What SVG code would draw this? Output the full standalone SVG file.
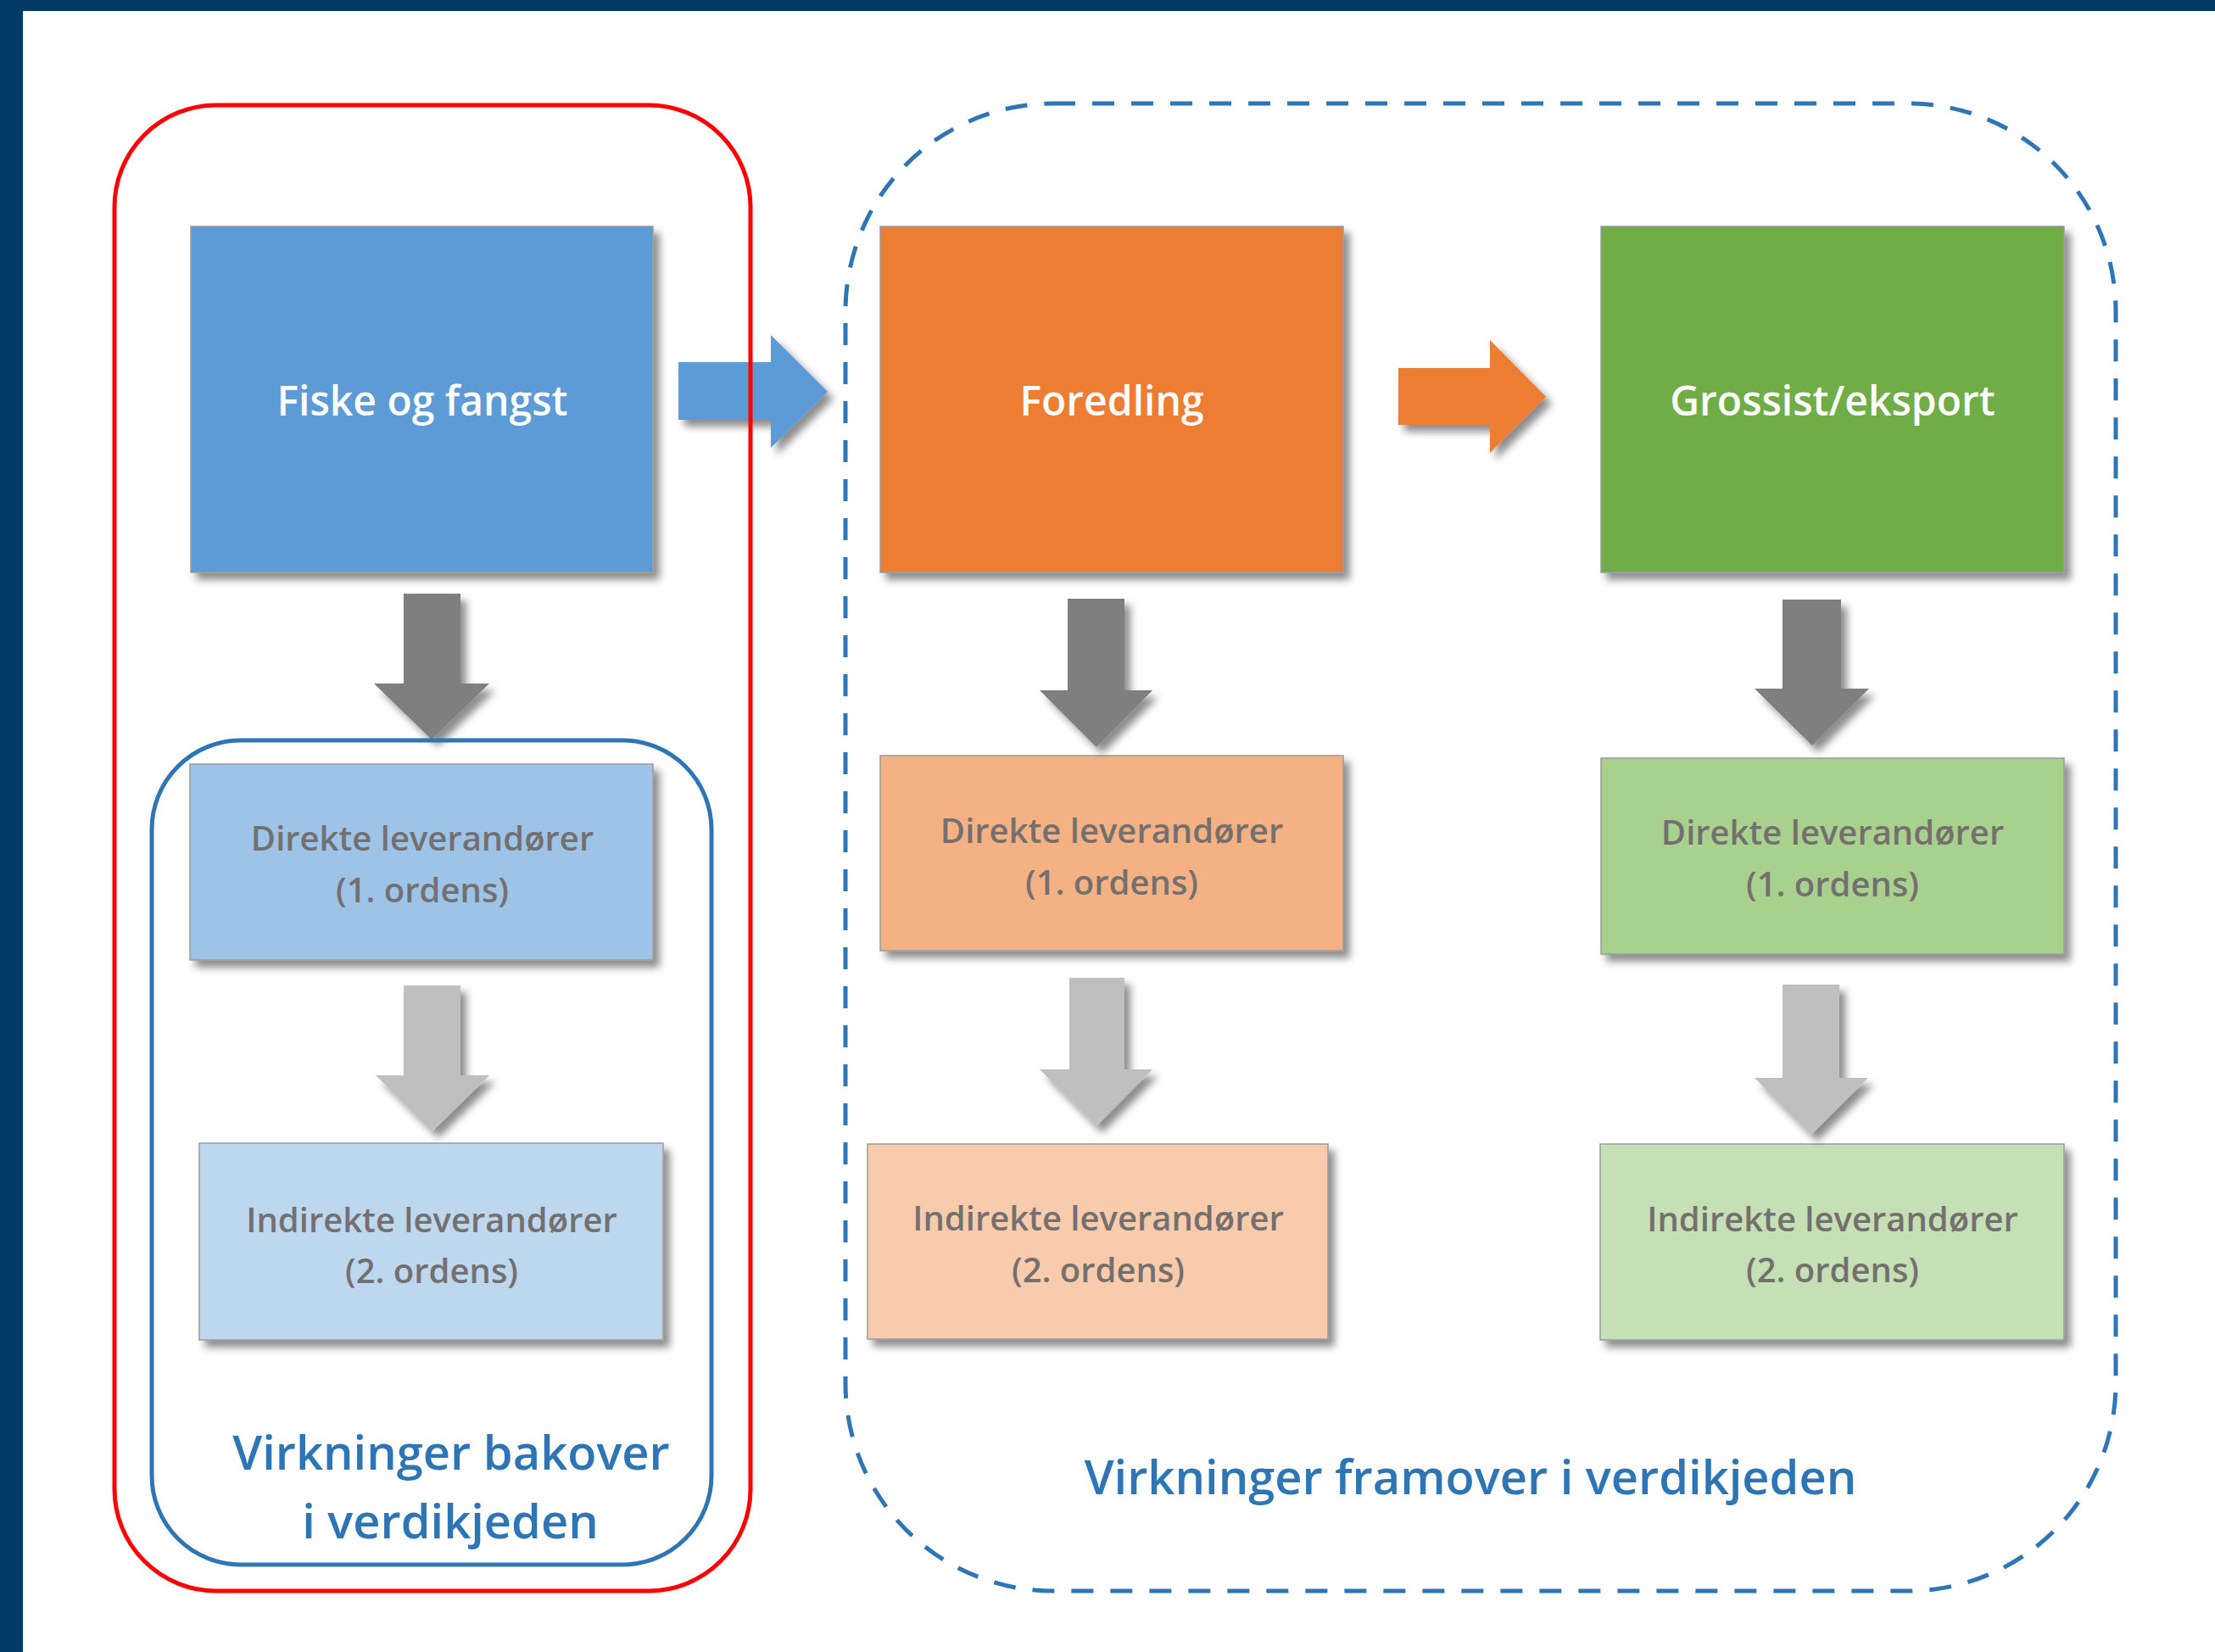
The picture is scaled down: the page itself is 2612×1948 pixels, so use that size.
<svg xmlns="http://www.w3.org/2000/svg" width="2612" height="1948" viewBox="0 0 2612 1948">
<defs>
<style>
.box{stroke:#9a9a9a;stroke-width:1.5;filter:url(#sh)}
.title{font-family:"Open Sans","Liberation Sans",sans-serif;font-weight:600;font-size:48px;fill:#ffffff;text-anchor:middle}
.sub{font-family:"Open Sans","Liberation Sans",sans-serif;font-weight:600;font-size:40px;fill:#757070;text-anchor:middle}
.lbl{font-family:"Open Sans","Liberation Sans",sans-serif;font-weight:600;font-size:56px;fill:#2e75b6;text-anchor:middle}
.dk{fill:#7f7f7f;filter:url(#sh)}
.lt{fill:#bfbfbf;filter:url(#sh)}
</style>
<filter id="sh" x="-20%" y="-20%" width="150%" height="150%">
<feDropShadow dx="7" dy="8" stdDeviation="5" flood-color="#000" flood-opacity="0.45"/>
</filter>
</defs>
<rect x="0" y="0" width="2612" height="1948" fill="#ffffff"/>
<rect x="0" y="0" width="2612" height="13" fill="#023b66"/>
<rect x="0" y="0" width="27" height="1948" fill="#023b66"/>

<g id="node-fiske">
<rect class="box" x="225" y="267" width="545" height="408" fill="#5b9bd5"/>
<text class="title" x="498" y="490">Fiske og fangst</text>
</g>
<g id="node-foredling">
<rect class="box" x="1038" y="267" width="546" height="408" fill="#ed7d31"/>
<text class="title" x="1311" y="490">Foredling</text>
</g>
<g id="node-grossist">
<rect class="box" x="1888" y="267" width="546" height="408" fill="#70ad47"/>
<text class="title" x="2161" y="490">Grossist/eksport</text>
</g>

<g id="node-fiske-direkte">
<rect class="box" x="224" y="901" width="546" height="231" fill="#9dc3e6"/>
<text class="sub" x="498" y="1003">Direkte leverandører</text>
<text class="sub" x="498" y="1064">(1. ordens)</text>
</g>
<g id="node-fiske-indirekte">
<rect class="box" x="235" y="1348" width="547" height="232" fill="#bdd7ee"/>
<text class="sub" x="509" y="1453">Indirekte leverandører</text>
<text class="sub" x="509" y="1513">(2. ordens)</text>
</g>
<g id="node-foredling-direkte">
<rect class="box" x="1038" y="891" width="546" height="230" fill="#f4b183"/>
<text class="sub" x="1311" y="994">Direkte leverandører</text>
<text class="sub" x="1311" y="1055">(1. ordens)</text>
</g>
<g id="node-foredling-indirekte">
<rect class="box" x="1023" y="1349" width="543" height="230" fill="#f8cbad"/>
<text class="sub" x="1295" y="1451">Indirekte leverandører</text>
<text class="sub" x="1295" y="1512">(2. ordens)</text>
</g>
<g id="node-grossist-direkte">
<rect class="box" x="1888" y="894" width="546" height="231" fill="#a9d18e"/>
<text class="sub" x="2161" y="996">Direkte leverandører</text>
<text class="sub" x="2161" y="1057">(1. ordens)</text>
</g>
<g id="node-grossist-indirekte">
<rect class="box" x="1887" y="1349" width="547" height="231" fill="#c5e0b4"/>
<text class="sub" x="2161" y="1452">Indirekte leverandører</text>
<text class="sub" x="2161" y="1512">(2. ordens)</text>
</g>

<g id="connectors">
<polygon fill="#5b9bd5" filter="url(#sh)" points="800,427 909,427 909,395 976,462 909,528 909,495 800,495"/>
<polygon fill="#ed7d31" filter="url(#sh)" points="1649,434 1757,434 1757,401 1823,468 1757,534 1757,501 1649,501"/>
<polygon class="dk" points="476,700 543,700 543,806 577,806 509,872 441,806 476,806"/>
<polygon class="dk" points="1259,706 1326,706 1326,814 1359,814 1293,881 1226,814 1259,814"/>
<polygon class="dk" points="2102,707 2171,707 2171,812 2204,812 2137,879 2069,812 2102,812"/>
<polygon class="lt" points="476,1162 543,1162 543,1268 577,1268 510,1334 443,1268 476,1268"/>
<polygon class="lt" points="1261,1153 1326,1153 1326,1261 1359,1261 1293,1328 1226,1261 1261,1261"/>
<polygon class="lt" points="2102,1161 2169,1161 2169,1271 2203,1271 2136,1338 2069,1271 2102,1271"/>
</g>

<g id="group-bakover">
<rect x="135" y="124" width="750" height="1752" rx="120" ry="120" fill="none" stroke="#ff0000" stroke-width="5"/>
<rect x="179" y="873" width="660" height="972" rx="105" ry="105" fill="none" stroke="#2e75b6" stroke-width="5"/>
<text class="lbl" x="532" y="1733">Virkninger bakover</text>
<text class="lbl" x="531" y="1814">i verdikjeden</text>
</g>
<g id="group-framover">
<rect x="997" y="122" width="1498" height="1754" rx="245" ry="245" fill="none" stroke="#2e75b6" stroke-width="5" stroke-dasharray="26 20"/>
<text class="lbl" x="1734" y="1762">Virkninger framover i verdikjeden</text>
</g>
</svg>
